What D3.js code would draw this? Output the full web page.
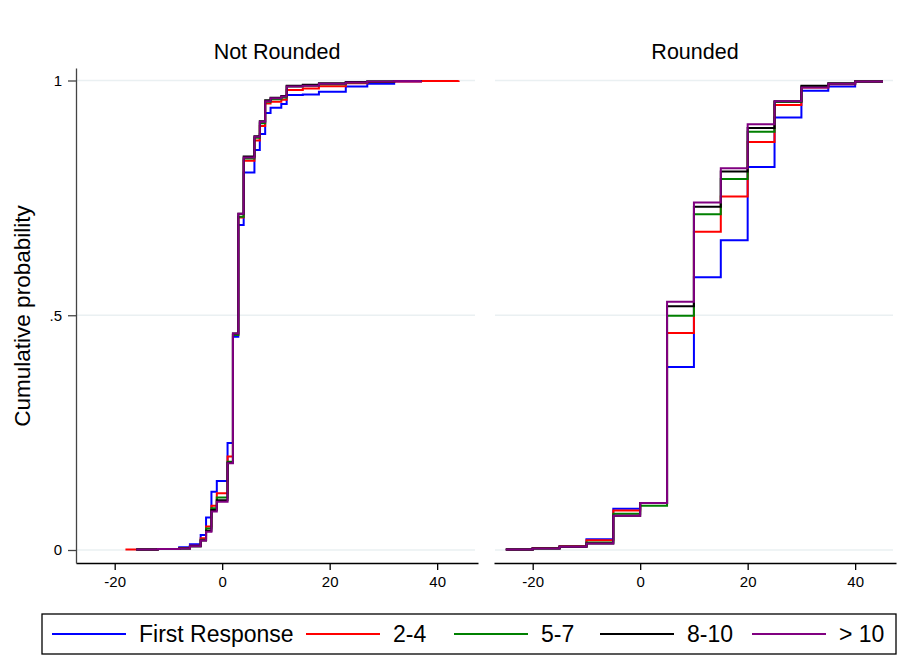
<!DOCTYPE html>
<html>
<head>
<meta charset="utf-8">
<script src="https://cdn.jsdelivr.net/npm/d3@7"></script>
<style>
  body { margin: 0; background: #fff; }
  svg { display: block; font-family: "Liberation Sans", Arial, Helvetica, sans-serif; }
</style>
</head>
<body>
<div class="chart-container"></div>
<script>
// groups (legend order = draw order)
const groups = ["First Response", "2-4", "5-7", "8-10", "> 10"];
const colors = ["#0000ff", "#ff0000", "#008000", "#000000", "#800080"];
const panels = ["Not Rounded", "Rounded"];

// Not Rounded: step points (null = no point for that group)
const notRoundedX = [-18, -16, -12, -8, -6, -4, -3, -2, -1, 1, 2, 3, 4, 6, 7, 8, 9, 11, 12, 15, 18, 23, 27, 32, 37, 44];
const nrFirst = [null, 0.001, 0.002, 0.006, 0.012, 0.032, 0.069, 0.124, 0.147, 0.228, 0.454, 0.692, 0.804, 0.852, 0.886, 0.931, 0.942, 0.950, 0.969, 0.970, 0.976, 0.987, 0.993, 0.998, 1, null];
const nr2to4 = [0.001, 0.001, 0.002, 0.004, 0.009, 0.025, 0.050, 0.094, 0.121, 0.199, 0.458, 0.708, 0.829, 0.872, 0.903, 0.951, 0.955, 0.959, 0.980, 0.983, 0.988, 0.994, 0.997, 0.998, 0.999, 1];
const nr5to7 = [null, 0.001, 0.002, 0.003, 0.008, 0.022, 0.046, 0.089, 0.112, 0.188, 0.458, 0.710, 0.834, 0.878, 0.909, 0.955, 0.960, 0.964, 0.987, 0.989, 0.992, 0.996, 0.998, 0.999, 1, null];
const nr8to10 = [null, 0.001, 0.002, 0.003, 0.008, 0.020, 0.041, 0.085, 0.106, 0.186, 0.461, 0.716, 0.838, 0.881, 0.913, 0.958, 0.963, 0.967, 0.989, 0.991, 0.994, 0.997, 0.998, 0.999, 1, null];
const nrOver10 = [null, 0.001, 0.002, 0.003, 0.008, 0.020, 0.039, 0.082, 0.103, 0.185, 0.461, 0.716, 0.836, 0.880, 0.912, 0.956, 0.962, 0.966, 0.987, 0.989, 0.993, 0.996, 0.998, 0.999, 1, null];

// Rounded: steps at multiples of 5
const roundedX = [-25, -20, -15, -10, -5, 0, 5, 10, 15, 20, 25, 30, 35, 40, 45];
const rFirst = [0.001, 0.004, 0.008, 0.023, 0.088, 0.100, 0.390, 0.581, 0.660, 0.816, 0.921, 0.978, 0.987, 0.998, 1];
const r2to4 = [0.001, 0.004, 0.008, 0.021, 0.084, 0.100, 0.462, 0.678, 0.753, 0.869, 0.948, 0.985, 0.992, 0.998, 1];
const r5to7 = [0.001, 0.003, 0.007, 0.016, 0.077, 0.094, 0.499, 0.715, 0.790, 0.891, 0.954, 0.987, 0.993, 0.998, 1];
const r8to10 = [0.001, 0.003, 0.007, 0.014, 0.073, 0.100, 0.519, 0.731, 0.806, 0.899, 0.956, 0.989, 0.994, 0.998, 1];
const rOver10 = [0.001, 0.003, 0.007, 0.014, 0.073, 0.100, 0.529, 0.740, 0.813, 0.907, 0.956, 0.985, 0.993, 0.998, 1];

const xTicks = [-20, 0, 20, 40];
const yTicks = [0, 0.5, 1];
const yTickLabels = ["0", ".5", "1"];

const panelData = [
    {x: notRoundedX, series: [nrFirst, nr2to4, nr5to7, nr8to10, nrOver10]},
    {x: roundedX, series: [rFirst, r2to4, r5to7, r8to10, rOver10]}
];

const W = 914, H = 655;
const svg = d3.select(".chart-container").append("svg")
    .attr("width", W).attr("height", H);
svg.append("rect").attr("width", W).attr("height", H).attr("fill", "#fff");

const yScale = d3.scaleLinear().domain([0, 1]).range([550, 80.5]);
const plotTop = 68, plotBottom = 563;
const panelRanges = [[76, 478], [494, 896]];

panelRanges.forEach((rng, i) => {
    const xScale = d3.scaleLinear().domain([-27.2, 47.6]).range(rng);
    const g = svg.append("g");

    // grid
    g.selectAll(".grid").data(yTicks).enter().append("line")
        .attr("x1", rng[0] + 1).attr("x2", rng[1] - 3)
        .attr("y1", d => yScale(d)).attr("y2", d => yScale(d))
        .attr("stroke", "#eaf0f2").attr("stroke-width", 1.5);

    // x axis
    const xAxis = g.append("g")
        .attr("transform", `translate(0,${plotBottom})`)
        .call(d3.axisBottom(xScale).tickValues(xTicks).tickSize(7).tickPadding(6).tickSizeOuter(0)
            .tickFormat(d => String(d)));
    xAxis.select(".domain").attr("stroke", "#000").attr("stroke-width", 1.3);
    xAxis.selectAll(".tick line").attr("stroke", "#000").attr("stroke-width", 1.3);
    xAxis.selectAll("text").attr("font-size", 15).attr("fill", "#000")
        .attr("font-family", "'Liberation Sans', Arial, sans-serif");

    // y axis only on the first panel
    if (i === 0) {
        const yAx = d3.scaleLinear().domain([yScale.invert(plotBottom), yScale.invert(plotTop)])
            .range([plotBottom, plotTop]);
        const yAxis = g.append("g")
            .attr("transform", `translate(${rng[0]},0)`)
            .call(d3.axisLeft(yAx).tickValues(yTicks).tickSize(8).tickPadding(6).tickSizeOuter(0)
                .tickFormat((d, k) => yTickLabels[k]));
        yAxis.select(".domain").attr("stroke", "#444").attr("stroke-width", 1.3);
        yAxis.selectAll(".tick line").attr("stroke", "#444").attr("stroke-width", 1.3);
        yAxis.selectAll("text").attr("font-size", 15).attr("fill", "#000")
            .attr("font-family", "'Liberation Sans', Arial, sans-serif");
    }

    // panel title
    g.append("text")
        .attr("x", (rng[0] + rng[1]) / 2).attr("y", 59)
        .attr("text-anchor", "middle").attr("font-size", 21.5).attr("fill", "#000")
        .text(panels[i]);

    // step lines
    const line = d3.line()
        .x(d => xScale(d[0])).y(d => yScale(d[1]))
        .curve(d3.curveStepAfter);
    const pd = panelData[i];
    pd.series.forEach((vals, k) => {
        const pts = pd.x.map((x, j) => [x, vals[j]]).filter(d => d[1] != null);
        g.append("path").datum(pts)
            .attr("d", line)
            .attr("fill", "none")
            .attr("stroke", colors[k])
            .attr("stroke-width", 2);
    });
});

// y axis title
svg.append("text")
    .attr("transform", "translate(30,316) rotate(-90)")
    .attr("text-anchor", "middle").attr("font-size", 22.5).attr("fill", "#000")
    .text("Cumulative probability");

// legend
const legend = svg.append("g");
legend.append("rect")
    .attr("x", 42).attr("y", 614).attr("width", 854).attr("height", 40)
    .attr("fill", "#fff").attr("stroke", "#000").attr("stroke-width", 1.3);
const legendX = [52, 306, 454, 600, 752];
groups.forEach((name, k) => {
    legend.append("line")
        .attr("x1", legendX[k]).attr("x2", legendX[k] + 74)
        .attr("y1", 634).attr("y2", 634)
        .attr("stroke", colors[k]).attr("stroke-width", 2);
    legend.append("text")
        .attr("x", legendX[k] + 87).attr("y", 642)
        .attr("font-size", 23).attr("fill", "#000")
        .text(name);
});
</script>
</body>
</html>
